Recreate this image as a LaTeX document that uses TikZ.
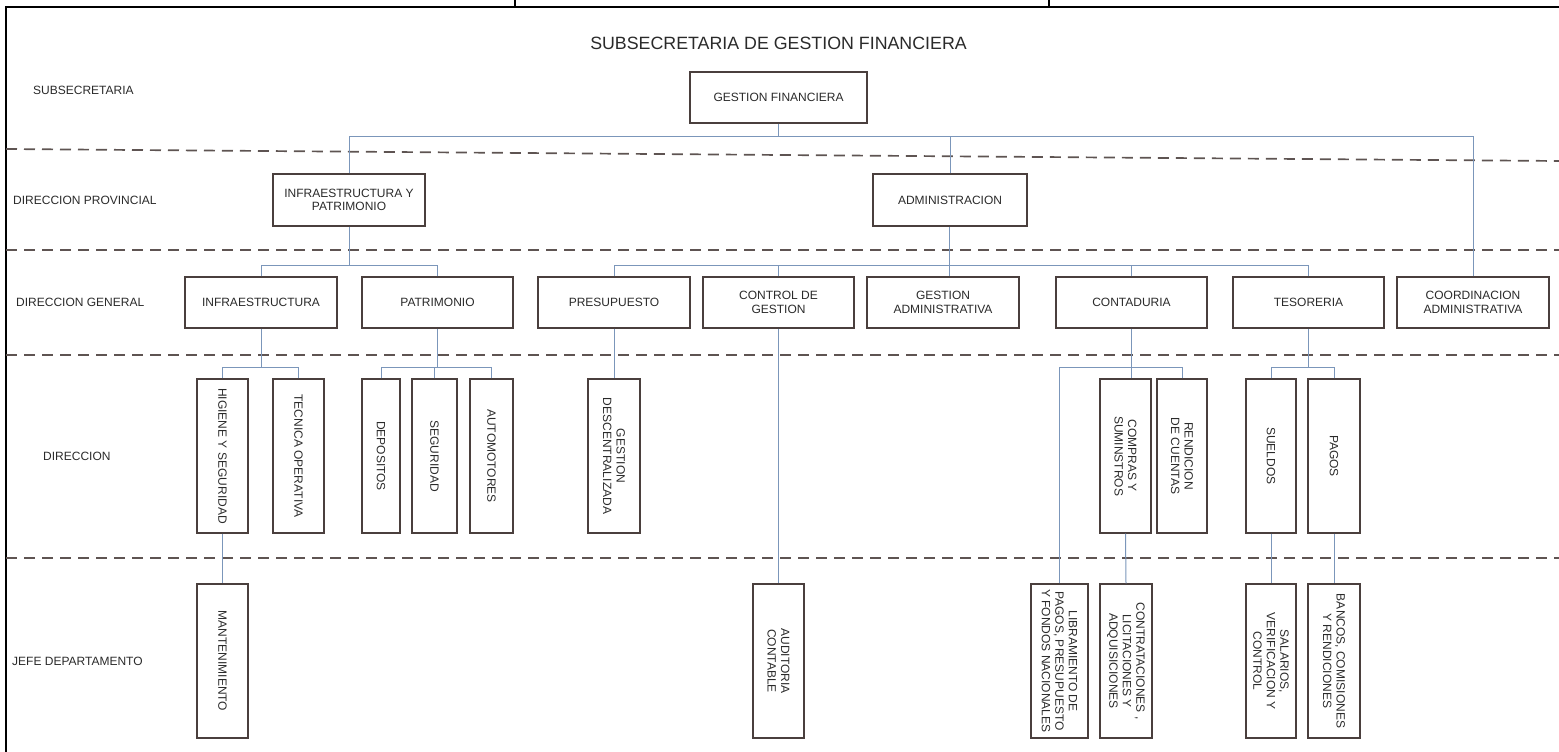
\documentclass[tikz,border=0pt]{standalone}
\usepackage{fontspec}
\setmainfont{Liberation Sans}
\definecolor{boxc}{HTML}{4A3F3D}
\definecolor{connc}{HTML}{7B96BA}
\definecolor{sepc}{HTML}{5E5452}
\definecolor{txt}{HTML}{2A2A2A}
\begin{document}
\begin{tikzpicture}[x=1pt,y=-1pt,
  every node/.style={font=\fontsize{12}{13.5}\selectfont, text=txt},
  hbox/.style={draw=boxc, line width=1.3pt, align=center, inner sep=0pt, minimum height=51pt},
  vbox/.style={draw=boxc, line width=1.3pt, align=center, inner sep=0pt, rotate=-90, minimum width=154pt},
  conn/.style={draw=connc, line width=1pt},
  sepline/.style={draw=sepc, line width=1.7pt, dash pattern=on 11pt off 7pt},
  frame/.style={draw=black, line width=1.8pt},
  lvl/.style={anchor=west, inner sep=0pt}]
\useasboundingbox (0,0) rectangle (1559,752);

% frame
\coordinate (f1) at (6,752);
\coordinate (f2) at (6,7);
\coordinate (f3) at (1559,7);
\coordinate (t1) at (515,0);
\coordinate (t2) at (1049,0);
\draw[frame] (f1) -- (f2) -- (f3);
\draw[frame] (t1) -- (t1 |- f2);
\draw[frame] (t2) -- (t2 |- f2);

% level separators
\coordinate (s1a) at (6,149);  \coordinate (s1b) at (1559,161);
\coordinate (s2a) at (6,250);  \coordinate (s2b) at (1559,250);
\coordinate (s3a) at (6,355);  \coordinate (s3b) at (1559,355);
\coordinate (s4a) at (6,558);  \coordinate (s4b) at (1559,558);
\draw[sepline] (s1a) -- (s1b);
\draw[sepline] (s2a) -- (s2b);
\draw[sepline] (s3a) -- (s3b);
\draw[sepline] (s4a) -- (s4b);

% title and level labels
\node[font=\fontsize{17.8}{20}\selectfont] (title) at (778.5,43) {SUBSECRETARIA DE GESTION FINANCIERA};
\node[lvl] (lsub) at (33,90) {SUBSECRETARIA};
\node[lvl] (lprov) at (13,200) {DIRECCION PROVINCIAL};
\node[lvl] (lgen) at (16,302) {DIRECCION GENERAL};
\node[lvl] (ldir) at (43,456) {DIRECCION};
\node[lvl] (ljefe) at (12,661) {JEFE DEPARTAMENTO};

% subsecretaria
\node[hbox, minimum width=177pt] (gf) at (778.5,97.5) {GESTION FINANCIERA};

% direccion provincial
\node[hbox, minimum width=152pt, minimum height=52pt] (iyp) at (349,200) {INFRAESTRUCTURA Y\\PATRIMONIO};
\node[hbox, minimum width=154pt, minimum height=52pt] (adm) at (950,200) {ADMINISTRACION};

% direccion general
\node[hbox, minimum width=152pt] (infra) at (261,302.5) {INFRAESTRUCTURA};
\node[hbox, minimum width=151pt] (patri) at (437.5,302.5) {PATRIMONIO};
\node[hbox, minimum width=152pt] (presu) at (614,302.5) {PRESUPUESTO};
\node[hbox, minimum width=151pt] (control) at (778.5,302.5) {CONTROL DE\\GESTION};
\node[hbox, minimum width=152pt] (gestadm) at (943,302.5) {GESTION\\ADMINISTRATIVA};
\node[hbox, minimum width=151pt] (contad) at (1131.5,302.5) {CONTADURIA};
\node[hbox, minimum width=151pt] (tesor) at (1308.5,302.5) {TESORERIA};
\node[hbox, minimum width=152pt] (coord) at (1473,302.5) {COORDINACION\\ADMINISTRATIVA};

% direccion
\node[vbox, minimum height=51pt] (higiene) at (222.5,456) {HIGIENE Y SEGURIDAD};
\node[vbox, minimum height=51pt] (tecnica) at (298.5,456) {TECNICA OPERATIVA};
\node[vbox, minimum height=38pt] (depositos) at (381,456) {DEPOSITOS};
\node[vbox, minimum height=45pt] (seguridad) at (434.5,456) {SEGURIDAD};
\node[vbox, minimum height=43pt] (automotores) at (491.5,456) {AUTOMOTORES};
\node[vbox, minimum height=52pt] (gestdesc) at (614,456) {GESTION\\DESCENTRALIZADA};
\node[vbox, minimum height=51pt] (compras) at (1125.5,456) {COMPRAS Y\\SUMINSTROS};
\node[vbox, minimum height=50pt] (rendicion) at (1182,456) {RENDICION\\DE CUENTAS};
\node[vbox, minimum height=50pt] (sueldos) at (1271,456) {SUELDOS};
\node[vbox, minimum height=52pt] (pagos) at (1334,456) {PAGOS};

% jefe departamento
\node[vbox, minimum height=51pt] (mant) at (222.5,661) {MANTENIMIENTO};
\node[vbox, minimum height=51pt] (auditoria) at (778.5,661) {AUDITORIA\\CONTABLE};
\node[vbox, minimum height=57pt] (libram) at (1059.5,661) {LIBRAMIENTO DE\\PAGOS, PRESUPUESTO\\Y FONDOS NACIONALES};
\node[vbox, minimum height=52pt] (contrat) at (1126,661) {CONTRATACIONES ,\\LICITACIONES Y\\ADQUISICIONES};
\node[vbox, minimum height=50pt] (salarios) at (1271,661) {SALARIOS,\\VERIFICACION Y\\CONTROL};
\node[vbox, minimum height=52pt] (bancos) at (1334,661) {BANCOS, COMISIONES\\Y RENDICIONES};

% connectors
\coordinate (bus1) at (778.5,136);
\draw[conn] (gf.south) -- (bus1);
\draw[conn] (iyp.north) |- (bus1);
\draw[conn] (adm.north) |- (bus1);
\draw[conn] (coord.north) |- (bus1);

\coordinate (bus3) at (349,265);
\draw[conn] (iyp.south) -- (bus3);
\draw[conn] (infra.north) |- (bus3);
\draw[conn] (patri.north) |- (bus3);

\coordinate (bus2) at (949,265);
\draw[conn] (bus2 |- adm.south) -- (bus2);
\draw[conn] (presu.north) |- (bus2);
\draw[conn] (control.north) |- (bus2);
\draw[conn] (contad.north) |- (bus2);
\draw[conn] (tesor.north) |- (bus2);
\draw[conn] (bus2) -- (bus2 |- gestadm.north);

\coordinate (bus4) at (261,367);
\draw[conn] (infra.south) -- (bus4);
\draw[conn] (higiene.west) |- (bus4);
\draw[conn] (tecnica.west) |- (bus4);

\coordinate (bus5) at (437.5,367);
\draw[conn] (patri.south) -- (bus5);
\draw[conn] (depositos.west) |- (bus5);
\draw[conn] (seguridad.west) |- (bus5);
\draw[conn] (automotores.west) |- (bus5);

\draw[conn] (presu.south) -- (gestdesc.west);
\draw[conn] (control.south) -- (auditoria.west);

\coordinate (bus6) at (1131.5,367);
\draw[conn] (contad.south) -- (bus6);
\draw[conn] (libram.west) |- (bus6);
\draw[conn] (bus6) -- (bus6 |- compras.west);
\draw[conn] (rendicion.west) |- (bus6);

\coordinate (bus7) at (1308.5,367);
\draw[conn] (tesor.south) -- (bus7);
\draw[conn] (sueldos.west) |- (bus7);
\draw[conn] (pagos.west) |- (bus7);

\draw[conn] (higiene.east) -- (mant.west);
\draw[conn] (compras.east) -- (contrat.west);
\draw[conn] (sueldos.east) -- (salarios.west);
\draw[conn] (pagos.east) -- (bancos.west);
\end{tikzpicture}
\end{document}
